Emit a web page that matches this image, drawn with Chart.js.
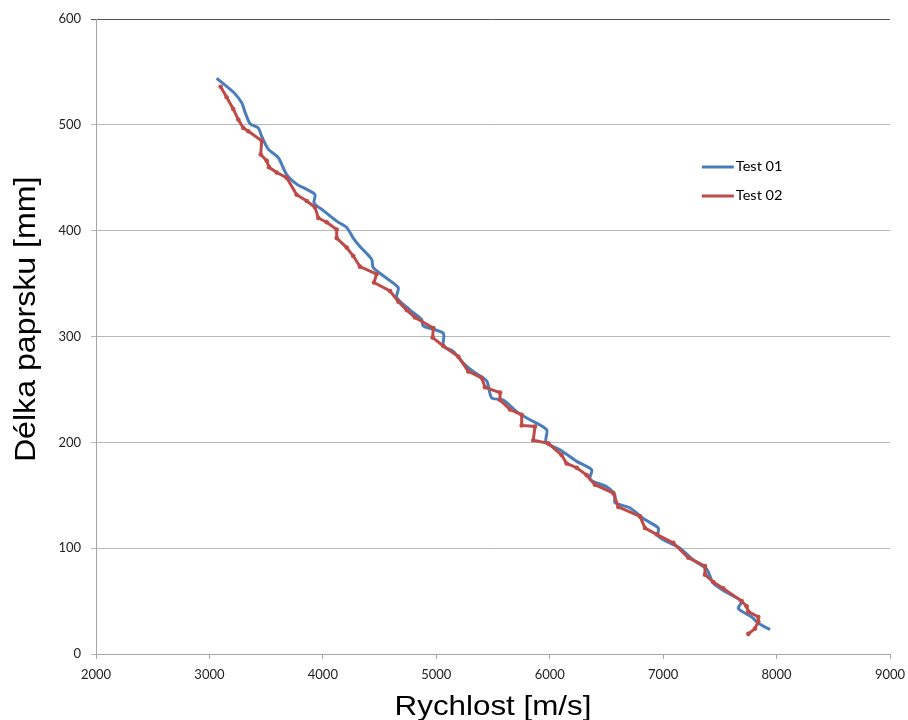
<!DOCTYPE html>
<html><head><meta charset="utf-8">
<script src="https://cdn.jsdelivr.net/npm/chart.js@4/dist/chart.umd.min.js"></script>
<style>html,body{margin:0;padding:0;background:#fff}#wrap{width:908px;height:720px}</style>
</head><body><div id="wrap"><canvas id="c" width="908" height="720"></canvas></div>
<script>
const seriesNames = ["Test 01", "Test 02"];
const xTitle = "Rychlost [m/s]";
const yTitle = "Délka paprsku [mm]";
const test01X = [3064,3210,3284,3314,3358,3431,3461,3519,3607,3681,3769,3858,3931,3922,4004,4122,4210,4268,4327,4430,4445,4563,4665,4651,4768,4871,4885,5062,5062,5150,5238,5326,5444,5488,5591,5709,5797,5973,5967,6091,6238,6370,6355,6502,6575,6575,6708,6825,6957,6957,7148,7265,7384,7442,7545,7692,7662,7781,7839,7942];
const test01Y = [544,531,521,512,501,497,489,477,469,453,444,439,434,426,419,409,403,393,385,373,365,355,346,337,325,316,310,303,291,286,275,267,258,242,240,229,223,212,200,193,182,174,165,158,150,143,138,128,119,111,100,89,80,67,59,50,43,35,29,23];
const test02X = [3099,3152,3210,3254,3299,3343,3461,3452,3505,3525,3593,3681,3769,3858,3931,3960,4034,4122,4122,4210,4268,4327,4474,4451,4592,4665,4739,4812,4974,4968,5062,5194,5282,5400,5429,5562,5562,5650,5753,5753,5870,5855,5988,6105,6149,6238,6326,6399,6561,6605,6796,6840,6943,7090,7222,7369,7369,7442,7530,7692,7736,7751,7839,7839,7810,7751];
const test02Y = [536,526,515,505,497,494,485,472,466,460,455,450,434,428,422,412,408,401,393,384,376,366,359,351,343,333,325,318,308,299,291,281,267,261,252,247,240,231,226,216,215,202,199,188,180,176,169,160,152,139,130,119,113,105,91,83,75,68,62,50,45,40,35,31,24,19];
const xTicks = [2000,3000,4000,5000,6000,7000,8000,9000];
const yTicks = [0,100,200,300,400,500,600];

const toPts = (xs, ys) => xs.map((x, i) => ({x: x, y: ys[i]}));

const legendPlugin = {
  id: 'insideLegend',
  afterDraw(chart) {
    const ctx = chart.ctx, a = chart.chartArea;
    const x0 = a.left + (a.right - a.left) * 0.763;
    const y0 = a.top + (a.bottom - a.top) * 0.233;
    chart.data.datasets.forEach((ds, i) => {
      const y = y0 + i * 29;
      ctx.save();
      ctx.strokeStyle = ds.borderColor; ctx.lineWidth = 3;
      ctx.beginPath(); ctx.moveTo(x0, y); ctx.lineTo(x0 + 32, y); ctx.stroke();
      ctx.fillStyle = '#000'; ctx.font = '13.5px Lato'; ctx.textBaseline = 'middle';
      ctx.save(); ctx.translate(x0 + 34, y); ctx.scale(1.08, 1);
      ctx.fillText(ds.label, 0, 0); ctx.restore();
      ctx.restore();
    });
  }
};

const titlePlugin = {
  id: 'axisTitles',
  afterDraw(chart) {
    const ctx = chart.ctx, a = chart.chartArea;
    ctx.save();
    ctx.fillStyle = '#000';
    ctx.textAlign = 'center'; ctx.textBaseline = 'alphabetic';
    ctx.save();
    ctx.font = '28px "Liberation Sans"';
    ctx.translate((a.left + a.right) / 2, a.bottom + 61);
    ctx.scale(1.12, 1);
    ctx.fillText(xTitle, 0, 0);
    ctx.restore();
    ctx.save();
    ctx.font = '30px "Liberation Sans"';
    ctx.translate(a.left - 61, a.top + (a.bottom - a.top) * 0.473);
    ctx.rotate(-Math.PI / 2);
    ctx.scale(1.07, 1);
    ctx.fillText(yTitle, 0, 0);
    ctx.restore();
    ctx.restore();
  }
};

new Chart(document.getElementById('c'), {
  type: 'scatter',
  data: {
    datasets: [
      {label: seriesNames[0], data: toPts(test01X, test01Y), showLine: true, borderColor: '#4a7ebb', backgroundColor: '#4a7ebb', borderWidth: 3, pointRadius: 0, tension: 0.25, order: 1},
      {label: seriesNames[1], data: toPts(test02X, test02Y), showLine: true, borderColor: '#be4b48', backgroundColor: '#be4b48', borderWidth: 3, pointRadius: 2.3, pointBorderWidth: 0, tension: 0, order: 0}
    ]
  },
  options: {
    responsive: false, animation: false,
    layout: {padding: {top: 19, right: 18, left: 0, bottom: 0}},
    plugins: {legend: {display: false}, tooltip: {enabled: false}},
    scales: {
      x: {
        type: 'linear', min: 2000, max: 9000,
        afterBuildTicks: s => { s.ticks = xTicks.map(v => ({value: v})); },
        afterFit: s => { s.height = 66; s.paddingLeft = 0; s.paddingRight = 0; },
        grid: {display: true, drawOnChartArea: false, drawTicks: true, tickLength: 5, color: '#a6a6a6'},
        border: {color: '#a6a6a6', width: 1},
        ticks: {color: '#222', font: {family: 'Lato', size: 13}, padding: 8, maxRotation: 0, callback: v => String(v)},
        title: {display: false}
      },
      y: {
        type: 'linear', min: 0, max: 600,
        afterBuildTicks: s => { s.ticks = yTicks.map(v => ({value: v})); },
        afterFit: s => { s.width = 96; },
        grid: {color: ctx => (ctx.tick && ctx.tick.value === 600) ? '#555555' : '#b8b8b8', lineWidth: 1, drawTicks: true, tickLength: 5},
        border: {color: '#a6a6a6', width: 1},
        ticks: {color: '#222', font: {family: 'Lato', size: 13}, padding: 10, callback: v => String(v)},
        title: {display: false}
      }
    }
  },
  plugins: [legendPlugin, titlePlugin]
});
</script></body></html>
